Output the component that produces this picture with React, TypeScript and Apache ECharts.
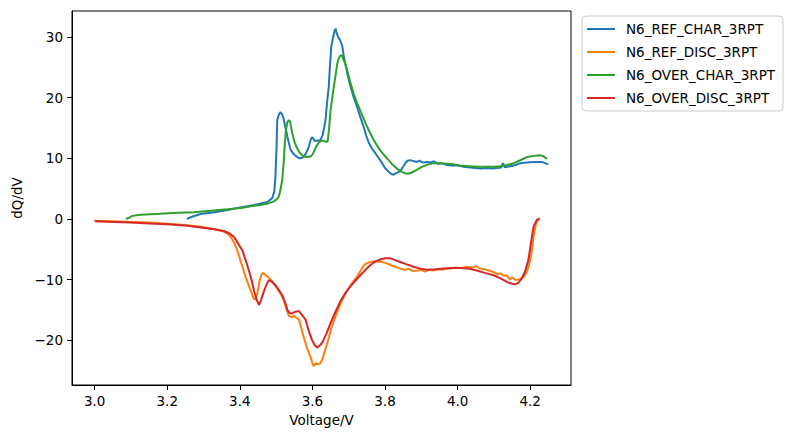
import React, { useEffect, useRef } from "react";
import * as echarts from "echarts";

const seriesNames = ["N6_REF_CHAR_3RPT", "N6_REF_DISC_3RPT", "N6_OVER_CHAR_3RPT", "N6_OVER_DISC_3RPT"];
const seriesColors = ["#1f77b4", "#ff7f0e", "#2ca02c", "#d62728"];
const xTicks = [3.0, 3.2, 3.4, 3.6, 3.8, 4.0, 4.2];
const yTicks = [-20, -10, 0, 10, 20, 30];

const refChar: number[][] = [
  [3.254, 0.0], [3.27, 0.4], [3.292, 0.8], [3.33, 1.1], [3.37, 1.5], [3.402, 1.9], [3.44, 2.3], [3.476, 2.8],
  [3.489, 3.4], [3.495, 4.5], [3.498, 7.0], [3.501, 11.5], [3.503, 16.3], [3.508, 17.3], [3.512, 17.6], [3.516, 17.3],
  [3.52, 16.7], [3.526, 15.0], [3.531, 13.6], [3.536, 12.3], [3.54, 11.4], [3.547, 10.8], [3.554, 10.4], [3.561, 10.1],
  [3.568, 10.0], [3.575, 10.2], [3.581, 10.7], [3.586, 11.3], [3.59, 11.9], [3.595, 13.0], [3.599, 13.5], [3.603, 13.2],
  [3.606, 12.9], [3.614, 12.9], [3.622, 13.0], [3.628, 13.8], [3.632, 15.0], [3.636, 16.3], [3.64, 19.0], [3.645, 21.8],
  [3.648, 25.0], [3.652, 28.4], [3.657, 30.0], [3.661, 31.0], [3.664, 31.4], [3.667, 30.6], [3.671, 30.0], [3.676, 29.5],
  [3.682, 28.6], [3.686, 27.0], [3.691, 25.5], [3.698, 23.5], [3.705, 21.8], [3.714, 20.0], [3.723, 18.5], [3.732, 16.8],
  [3.741, 15.2], [3.748, 13.8], [3.755, 12.6], [3.764, 11.6], [3.774, 10.8], [3.783, 10.0], [3.792, 9.2], [3.8, 8.4],
  [3.81, 7.8], [3.817, 7.4], [3.824, 7.3], [3.832, 7.6], [3.842, 7.9], [3.85, 8.6], [3.856, 9.2], [3.862, 9.6],
  [3.87, 9.7], [3.88, 9.5], [3.888, 9.4], [3.895, 9.6], [3.905, 9.3], [3.915, 9.4], [3.925, 9.3], [3.935, 9.5],
  [3.945, 9.1], [3.955, 9.2], [3.971, 8.9], [3.985, 8.8], [4.0, 8.8], [4.017, 8.6], [4.035, 8.5], [4.05, 8.4],
  [4.063, 8.3], [4.08, 8.4], [4.095, 8.3], [4.108, 8.4], [4.12, 8.5], [4.125, 9.2], [4.13, 8.5], [4.145, 8.7],
  [4.16, 8.9], [4.173, 9.2], [4.19, 9.3], [4.209, 9.4], [4.232, 9.4], [4.25, 9.0],
];

const refDisc: number[][] = [
  [3.0, -0.3], [3.05, -0.4], [3.1, -0.5], [3.15, -0.6], [3.2, -0.8], [3.25, -1.0], [3.292, -1.3], [3.33, -1.7],
  [3.356, -2.1], [3.368, -2.5], [3.375, -3.0], [3.385, -4.0], [3.393, -5.2], [3.405, -7.5], [3.416, -9.6], [3.428, -11.5],
  [3.437, -13.0], [3.441, -13.3], [3.448, -12.4], [3.455, -10.0], [3.462, -8.9], [3.47, -9.2], [3.48, -9.7], [3.49, -10.4],
  [3.503, -11.5], [3.512, -12.3], [3.521, -13.4], [3.528, -14.8], [3.535, -16.0], [3.543, -16.2], [3.549, -16.0], [3.556, -16.3],
  [3.563, -16.6], [3.57, -18.2], [3.576, -19.5], [3.586, -21.5], [3.595, -22.8], [3.6, -23.8], [3.604, -24.3], [3.61, -23.8],
  [3.615, -24.0], [3.622, -23.8], [3.627, -23.2], [3.634, -21.8], [3.641, -20.5], [3.652, -18.0], [3.664, -16.0], [3.677, -14.0],
  [3.691, -12.3], [3.705, -11.0], [3.714, -10.2], [3.723, -9.5], [3.733, -8.5], [3.741, -7.7], [3.75, -7.3], [3.76, -7.1],
  [3.775, -7.0], [3.792, -7.1], [3.803, -7.3], [3.815, -7.6], [3.828, -7.9], [3.842, -8.2], [3.855, -8.4], [3.865, -8.2],
  [3.875, -8.6], [3.888, -8.5], [3.9, -8.4], [3.91, -8.7], [3.922, -8.4], [3.934, -8.5], [3.945, -8.3], [3.958, -8.4],
  [3.97, -8.2], [3.98, -8.2], [3.995, -8.0], [4.01, -8.1], [4.026, -7.9], [4.04, -8.0], [4.05, -7.8], [4.063, -8.2],
  [4.075, -8.3], [4.09, -8.6], [4.1, -8.8], [4.11, -9.1], [4.12, -9.0], [4.127, -9.4], [4.135, -9.3], [4.145, -10.0],
  [4.15, -9.6], [4.157, -10.0], [4.163, -10.1], [4.172, -9.9], [4.182, -9.6], [4.19, -8.8], [4.195, -8.0], [4.2, -6.8],
  [4.205, -5.0], [4.209, -3.0], [4.215, -1.0], [4.22, -0.3], [4.225, 0.1],
];

const overChar: number[][] = [
  [3.086, 0.0], [3.095, 0.2], [3.104, 0.5], [3.127, 0.7], [3.18, 0.85], [3.23, 1.0], [3.274, 1.1], [3.32, 1.35],
  [3.366, 1.6], [3.402, 1.8], [3.43, 2.1], [3.457, 2.3], [3.48, 2.6], [3.494, 2.9], [3.503, 3.3], [3.508, 3.8],
  [3.512, 4.8], [3.517, 6.5], [3.521, 9.5], [3.524, 12.5], [3.527, 14.6], [3.531, 16.0], [3.535, 16.3], [3.538, 16.1],
  [3.543, 14.6], [3.549, 13.0], [3.556, 11.9], [3.563, 11.1], [3.57, 10.6], [3.576, 10.3], [3.586, 10.2], [3.595, 10.3],
  [3.6, 10.6], [3.604, 11.1], [3.611, 12.0], [3.618, 12.6], [3.625, 12.9], [3.631, 12.9], [3.637, 12.7], [3.642, 12.8],
  [3.646, 15.0], [3.65, 18.0], [3.657, 21.0], [3.664, 23.8], [3.669, 25.8], [3.673, 26.6], [3.678, 27.0], [3.682, 26.9],
  [3.686, 26.2], [3.691, 25.5], [3.698, 24.0], [3.705, 22.4], [3.714, 20.6], [3.723, 19.1], [3.735, 17.4], [3.746, 15.8],
  [3.758, 14.3], [3.769, 13.0], [3.778, 12.1], [3.787, 11.3], [3.798, 10.5], [3.81, 9.7], [3.82, 9.0], [3.833, 8.3],
  [3.845, 7.8], [3.856, 7.5], [3.866, 7.5], [3.875, 7.7], [3.885, 8.0], [3.896, 8.4], [3.906, 8.7], [3.92, 9.0],
  [3.934, 9.2], [3.95, 9.2], [3.971, 9.1], [3.99, 9.0], [4.007, 8.8], [4.03, 8.7], [4.053, 8.6], [4.075, 8.6],
  [4.099, 8.6], [4.118, 8.7], [4.136, 8.9], [4.15, 9.1], [4.163, 9.4], [4.177, 9.8], [4.191, 10.2], [4.21, 10.4],
  [4.225, 10.5], [4.235, 10.4], [4.246, 9.9],
];

const overDisc: number[][] = [
  [3.0, -0.4], [3.05, -0.5], [3.1, -0.6], [3.15, -0.75], [3.2, -0.9], [3.25, -1.1], [3.292, -1.4], [3.33, -1.7],
  [3.356, -2.0], [3.372, -2.4], [3.384, -3.0], [3.395, -4.0], [3.407, -5.2], [3.416, -6.8], [3.425, -8.5], [3.432, -10.0],
  [3.439, -11.8], [3.446, -13.3], [3.453, -14.2], [3.459, -13.3], [3.466, -12.0], [3.473, -10.9], [3.48, -10.1], [3.489, -10.4],
  [3.498, -10.9], [3.507, -11.7], [3.517, -12.6], [3.525, -13.8], [3.531, -15.0], [3.537, -15.5], [3.544, -15.6], [3.553, -15.3],
  [3.563, -15.2], [3.572, -15.9], [3.581, -16.6], [3.59, -18.5], [3.599, -20.0], [3.606, -20.8], [3.613, -21.2], [3.62, -20.9],
  [3.627, -20.4], [3.638, -19.0], [3.65, -17.2], [3.663, -15.4], [3.677, -13.6], [3.691, -12.2], [3.705, -11.1], [3.718, -10.2],
  [3.732, -9.3], [3.746, -8.4], [3.76, -7.6], [3.774, -7.0], [3.787, -6.7], [3.8, -6.5], [3.815, -6.5], [3.828, -6.8],
  [3.842, -7.1], [3.86, -7.5], [3.879, -7.9], [3.898, -8.2], [3.916, -8.4], [3.94, -8.3], [3.961, -8.2], [3.985, -8.1],
  [4.007, -8.1], [4.03, -8.2], [4.053, -8.5], [4.075, -8.9], [4.099, -9.3], [4.118, -9.8], [4.136, -10.4], [4.15, -10.7],
  [4.159, -10.8], [4.168, -10.5], [4.177, -9.8], [4.186, -8.6], [4.195, -6.8], [4.202, -4.0], [4.209, -1.3], [4.218, -0.2],
  [4.226, 0.1],
];

const seriesData = [refChar, refDisc, overChar, overDisc];

const FONT = "DejaVu Sans";
const FS = 13.5;

const fmtNum = (v: number) => (v < 0 ? "\u2212" + String(Math.abs(v)) : String(v));

export default function App() {
  const ref = useRef<HTMLDivElement>(null);
  useEffect(() => {
    if (!ref.current) return;
    const chart = echarts.init(ref.current, undefined, { renderer: "svg" });
    chart.setOption({
      animation: false,
      backgroundColor: "#ffffff",
      textStyle: { fontFamily: FONT },
      grid: {
        left: 72,
        right: 214,
        top: 11,
        bottom: 48,
        show: true,
        borderColor: "#000",
        borderWidth: 1,
        backgroundColor: "transparent",
      },
      legend: {
        orient: "vertical",
        left: 582,
        top: 16,
        data: seriesNames.map((n) => ({ name: n })),
        icon: "path://M0,0 L28,0 L28,2 L0,2 Z",
        itemWidth: 28,
        itemHeight: 2,
        itemGap: 7,
        padding: [5, 8, 5, 5],
        borderColor: "#cccccc",
        borderWidth: 1,
        borderRadius: 4,
        backgroundColor: "rgba(255,255,255,0.8)",
        textStyle: { fontFamily: FONT, fontSize: FS, color: "#000", lineHeight: 16, padding: [0, 0, 0, 6] },
      },
      xAxis: {
        type: "value",
        min: 2.9376,
        max: 4.3124,
        name: "Voltage/V",
        nameLocation: "middle",
        nameGap: 28,
        nameTextStyle: { fontFamily: FONT, fontSize: FS, color: "#000" },
        axisLine: { show: true, onZero: false, lineStyle: { color: "#000", width: 1 } },
        axisTick: { show: true, length: 5, customValues: xTicks, lineStyle: { color: "#000", width: 1 } },
        axisLabel: {
          customValues: xTicks,
          margin: 9,
          fontFamily: FONT,
          fontSize: FS,
          color: "#000",
          formatter: (v: number) => v.toFixed(1),
        },
        splitLine: { show: false },
      },
      yAxis: {
        type: "value",
        min: -27.4,
        max: 34.3,
        name: "dQ/dV",
        nameLocation: "middle",
        nameGap: 46,
        nameRotate: 90,
        nameTextStyle: { fontFamily: FONT, fontSize: FS, color: "#000" },
        axisLine: { show: true, onZero: false, lineStyle: { color: "#000", width: 1 } },
        axisTick: { show: true, length: 5, customValues: yTicks, lineStyle: { color: "#000", width: 1 } },
        axisLabel: {
          customValues: yTicks,
          margin: 9,
          fontFamily: FONT,
          fontSize: FS,
          color: "#000",
          formatter: (v: number) => fmtNum(v),
        },
        splitLine: { show: false },
      },
      series: seriesNames.map((name, i) => ({
        name,
        type: "line",
        data: seriesData[i],
        showSymbol: false,
        symbol: "none",
        smooth: false,
        clip: true,
        lineStyle: { color: seriesColors[i], width: 2 },
        itemStyle: { color: seriesColors[i] },
        emphasis: { disabled: true },
      })),
    });
    return () => chart.dispose();
  }, []);
  return <div ref={ref} style={{ position: "fixed", left: 0, top: 0, width: 785, height: 433 }} />;
}
